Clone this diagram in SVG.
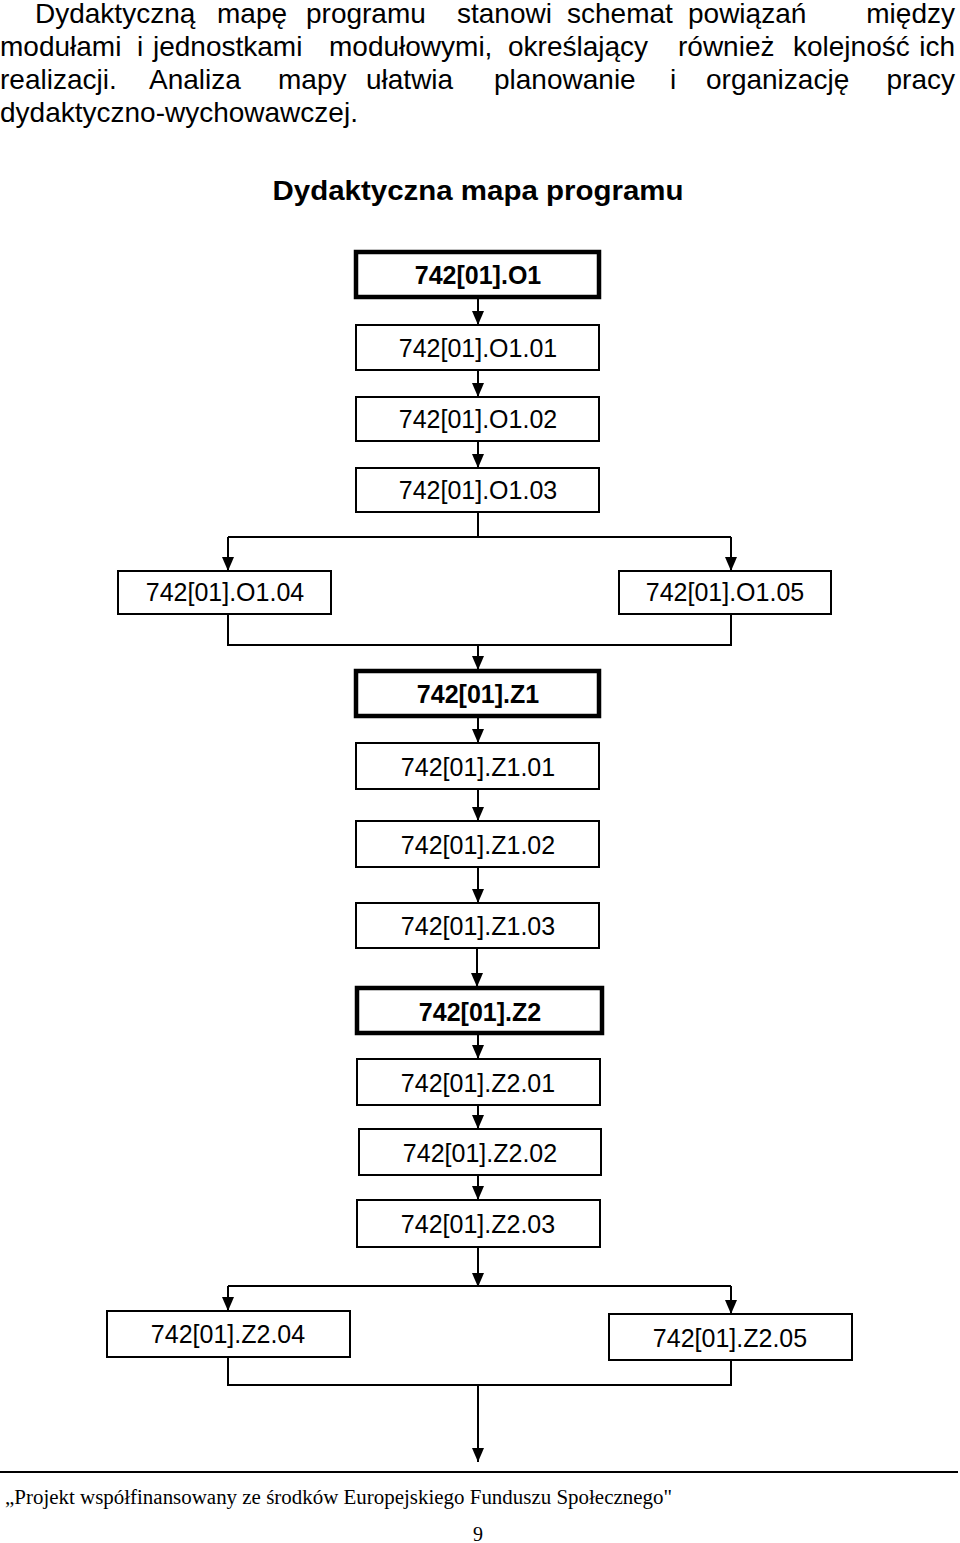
<svg xmlns="http://www.w3.org/2000/svg" width="960" height="1543" viewBox="0 0 960 1543">
<style>
.p{font-family:"Liberation Sans",Arial,sans-serif;font-size:28px;fill:#000}
.t{font-family:"Liberation Sans",Arial,sans-serif;font-size:27px;font-weight:bold;fill:#000}
.n{font-family:"Liberation Sans",Arial,sans-serif;font-size:25px;fill:#000;text-anchor:middle}
.b{font-weight:bold}
.box{fill:#fff;stroke:#000;stroke-width:2}
.thick{fill:#fff;stroke:#000;stroke-width:4.5}
.c{fill:none;stroke:#000;stroke-width:2}
.f{font-family:"Liberation Serif","Times New Roman",serif;font-size:20px;fill:#000}
</style>
<defs>
<marker id="ah" viewBox="0 0 14 12" markerWidth="14" markerHeight="12" refX="14" refY="6" orient="auto" markerUnits="userSpaceOnUse">
<path d="M0,0 L14,6 L0,12 z" fill="#000"/>
</marker>
</defs>
<rect width="960" height="1543" fill="#fff"/>
<g id="intro">
<text class="p" y="23"><tspan x="35">Dydaktyczną</tspan><tspan x="217">mapę</tspan><tspan x="306">programu</tspan><tspan x="457">stanowi</tspan><tspan x="567">schemat</tspan><tspan x="688">powiązań</tspan></text>
<text class="p" y="23" x="955" text-anchor="end">między</text>
<text class="p" y="56"><tspan x="0">modułami</tspan><tspan x="137">i</tspan><tspan x="153">jednostkami</tspan><tspan x="329">modułowymi,</tspan><tspan x="508">określający</tspan><tspan x="678">również</tspan><tspan x="793">kolejność</tspan></text>
<text class="p" y="56" x="955" text-anchor="end">ich</text>
<text class="p" y="89"><tspan x="0">realizacji.</tspan><tspan x="149">Analiza</tspan><tspan x="278">mapy</tspan><tspan x="366">ułatwia</tspan><tspan x="494">planowanie</tspan><tspan x="670">i</tspan><tspan x="706">organizację</tspan></text>
<text class="p" y="89" x="955" text-anchor="end">pracy</text>
<text class="p" y="122" x="0">dydaktyczno-wychowawczej.</text>
</g>
<text id="title" class="t" x="478" y="200" text-anchor="middle" textLength="411" lengthAdjust="spacingAndGlyphs">Dydaktyczna mapa programu</text>
<g id="connectors">
<path class="c" d="M478,298V325" marker-end="url(#ah)"/>
<path class="c" d="M478,370V397" marker-end="url(#ah)"/>
<path class="c" d="M478,441V468" marker-end="url(#ah)"/>
<path class="c" d="M478,512V537M228,537H731"/>
<path class="c" d="M228,537V571" marker-end="url(#ah)"/>
<path class="c" d="M731,537V571" marker-end="url(#ah)"/>
<path class="c" d="M228,614V645H731V614"/>
<path class="c" d="M478,645V670" marker-end="url(#ah)"/>
<path class="c" d="M478,717V743" marker-end="url(#ah)"/>
<path class="c" d="M478,789V821" marker-end="url(#ah)"/>
<path class="c" d="M478,867V903" marker-end="url(#ah)"/>
<path class="c" d="M477,948V987" marker-end="url(#ah)"/>
<path class="c" d="M478,1034V1059" marker-end="url(#ah)"/>
<path class="c" d="M478,1105V1129" marker-end="url(#ah)"/>
<path class="c" d="M478,1175V1200" marker-end="url(#ah)"/>
<path class="c" d="M478,1247V1287" marker-end="url(#ah)"/>
<path class="c" d="M228,1286H731"/>
<path class="c" d="M228,1286V1311" marker-end="url(#ah)"/>
<path class="c" d="M731,1286V1314" marker-end="url(#ah)"/>
<path class="c" d="M228,1357V1385H731V1360"/>
<path class="c" d="M478,1385V1462" marker-end="url(#ah)"/>
</g>
<g id="O1"><rect class="thick" x="356" y="252" width="243" height="45"/><text class="n b" x="478" y="284">742[01].O1</text></g>
<g id="O1-01"><rect class="box" x="356" y="325" width="243" height="45"/><text class="n" x="478" y="357">742[01].O1.01</text></g>
<g id="O1-02"><rect class="box" x="356" y="397" width="243" height="44"/><text class="n" x="478" y="428">742[01].O1.02</text></g>
<g id="O1-03"><rect class="box" x="356" y="468" width="243" height="44"/><text class="n" x="478" y="499">742[01].O1.03</text></g>
<g id="O1-04"><rect class="box" x="118" y="571" width="213" height="43"/><text class="n" x="225" y="601">742[01].O1.04</text></g>
<g id="O1-05"><rect class="box" x="619" y="571" width="212" height="43"/><text class="n" x="725" y="601">742[01].O1.05</text></g>
<g id="Z1"><rect class="thick" x="356" y="671" width="243" height="45"/><text class="n b" x="478" y="703">742[01].Z1</text></g>
<g id="Z1-01"><rect class="box" x="356" y="743" width="243" height="46"/><text class="n" x="478" y="776">742[01].Z1.01</text></g>
<g id="Z1-02"><rect class="box" x="356" y="821" width="243" height="46"/><text class="n" x="478" y="854">742[01].Z1.02</text></g>
<g id="Z1-03"><rect class="box" x="356" y="903" width="243" height="45"/><text class="n" x="478" y="935">742[01].Z1.03</text></g>
<g id="Z2"><rect class="thick" x="357" y="988" width="245" height="45"/><text class="n b" x="480" y="1021">742[01].Z2</text></g>
<g id="Z2-01"><rect class="box" x="357" y="1059" width="243" height="46"/><text class="n" x="478" y="1092">742[01].Z2.01</text></g>
<g id="Z2-02"><rect class="box" x="359" y="1129" width="242" height="46"/><text class="n" x="480" y="1162">742[01].Z2.02</text></g>
<g id="Z2-03"><rect class="box" x="357" y="1200" width="243" height="47"/><text class="n" x="478" y="1233">742[01].Z2.03</text></g>
<g id="Z2-04"><rect class="box" x="107" y="1311" width="243" height="46"/><text class="n" x="228" y="1343">742[01].Z2.04</text></g>
<g id="Z2-05"><rect class="box" x="609" y="1314" width="243" height="46"/><text class="n" x="730" y="1347">742[01].Z2.05</text></g>
<g id="footer">
<line x1="0" y1="1472" x2="958" y2="1472" stroke="#000" stroke-width="2"/>
<text class="f" x="5" y="1504" textLength="667" lengthAdjust="spacingAndGlyphs">„Projekt współfinansowany ze środków Europejskiego Funduszu Społecznego"</text>
<text class="f" x="478" y="1541" text-anchor="middle" font-size="24">9</text>
</g>
</svg>
